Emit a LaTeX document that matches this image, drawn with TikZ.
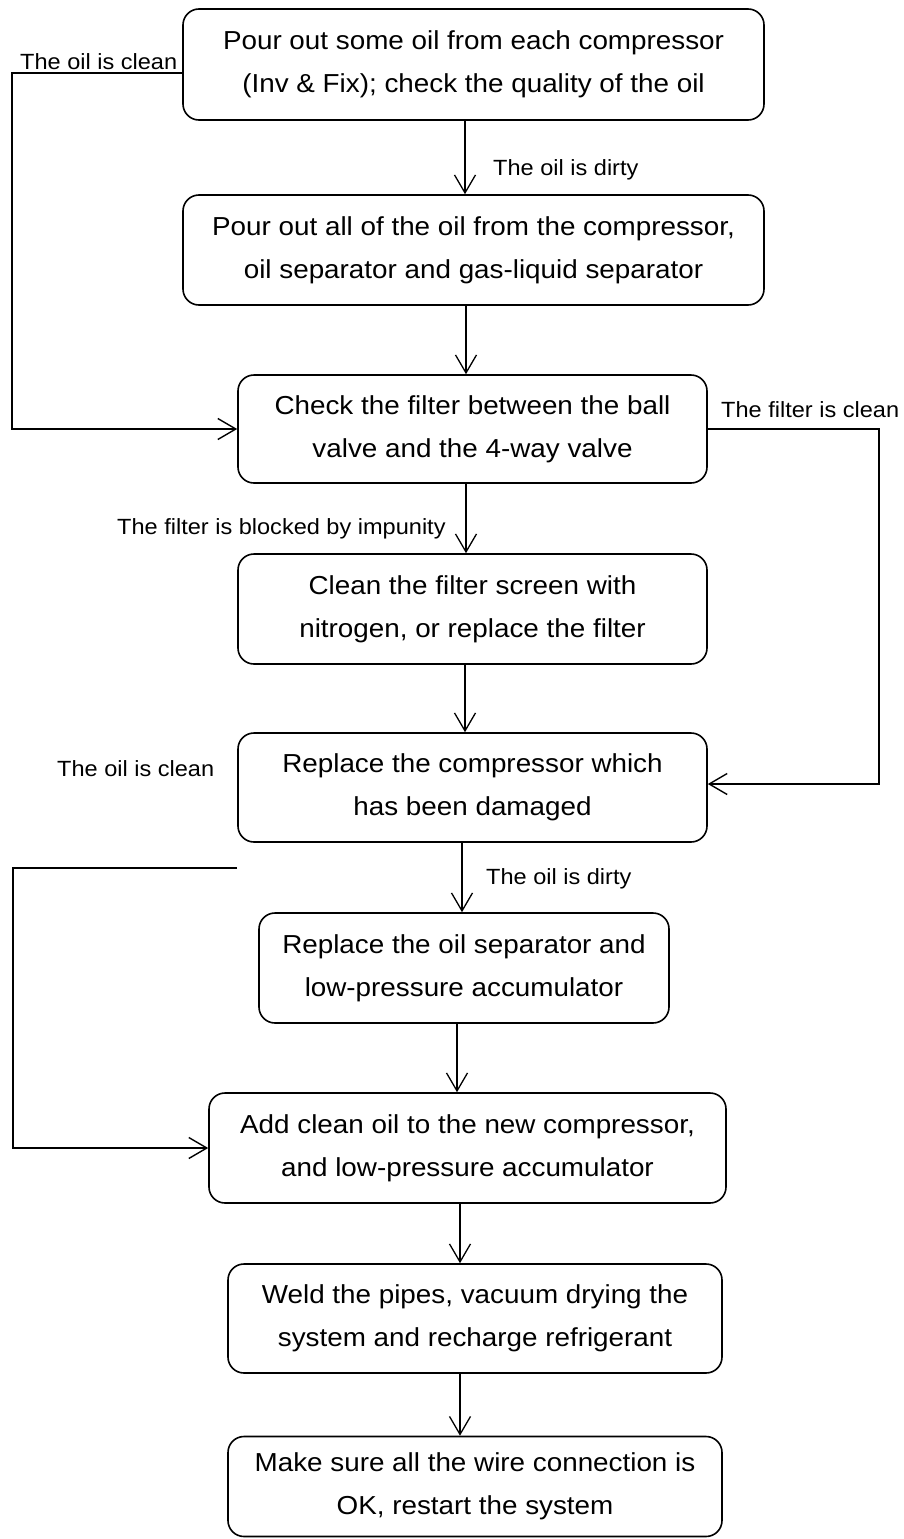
\documentclass[tikz,border=0pt]{standalone}
\usepackage{fontspec}
\setmainfont{Liberation Sans}[FakeStretch=1.07]
\usetikzlibrary{arrows.meta,calc}
\begin{document}
\begin{tikzpicture}[x=1pt,y=-1pt,
  boxnode/.style={draw, line width=1.6pt, rounded corners=16pt, align=center,
    inner sep=0pt, font=\fontsize{26}{43}\selectfont},
  lbl/.style={inner sep=0pt, font=\fontsize{22}{26}\selectfont},
  arr/.style={line width=1.3pt, -{Straight Barb[length=18pt,width=21pt]}},
  lp/.style={line width=2.4pt, -{Straight Barb[length=18pt,width=21pt,line width=1.4pt]}},
  lpn/.style={line width=2.4pt}
]
\fill[white] (0,0) rectangle (904,1539);
\useasboundingbox (0,0) rectangle (904,1539);

\node[boxnode, minimum width=581pt, minimum height=111pt] (b1) at (473.5,64.5)
  {Pour out some oil from each compressor\\(Inv \& Fix); check the quality of the oil};
\node[boxnode, minimum width=581pt, minimum height=110pt] (b2) at (473.5,250)
  {Pour out all of the oil from the compressor,\\oil separator and gas-liquid separator};
\node[boxnode, minimum width=469pt, minimum height=108pt] (b3) at (472.5,429)
  {Check the filter between the ball\\valve and the 4-way valve};
\node[boxnode, minimum width=469pt, minimum height=110pt] (b4) at (472.5,609)
  {Clean the filter screen with\\nitrogen, or replace the filter};
\node[boxnode, minimum width=469pt, minimum height=109pt] (b5) at (472.5,787.5)
  {Replace the compressor which\\has been damaged};
\node[boxnode, minimum width=410pt, minimum height=110pt] (b6) at (464,968)
  {Replace the oil separator and\\low-pressure accumulator};
\node[boxnode, minimum width=517pt, minimum height=110pt] (b7) at (467.5,1148)
  {Add clean oil to the new compressor,\\and low-pressure accumulator};
\node[boxnode, minimum width=494pt, minimum height=109pt] (b8) at (475,1318.5)
  {Weld the pipes, vacuum drying the\\system and recharge refrigerant};
\node[boxnode, minimum width=494pt, minimum height=100pt] (b9) at (475,1486.5)
  {Make sure all the wire connection is\\OK, restart the system};

% vertical links
\newcommand\vlink[3]{\draw[arr] ([xshift=#3]#1.south) coordinate (tmp) -- (tmp |- #2.north);}
\vlink{b1}{b2}{-8.5pt}
\vlink{b2}{b3}{-7.5pt}
\vlink{b3}{b4}{-6.5pt}
\vlink{b4}{b5}{-7.5pt}
\vlink{b5}{b6}{-10.5pt}
\vlink{b6}{b7}{-7pt}
\vlink{b7}{b8}{-7.5pt}
\vlink{b8}{b9}{-15pt}

% loops
\coordinate (lc1) at (12,200);
\coordinate (rc1) at (879,600);
\coordinate (s2) at (237,868);
\coordinate (lc2) at (13,1000);
\draw[lp] ([yshift=-8.5pt]b1.west) -| (lc1) |- (b3.west);
\draw[lp] (b3.east) -| (rc1) |- ([yshift=3.5pt]b5.east);
\draw[lp] (s2) -| (lc2) |- (b7.west);

% labels
\node[lbl, anchor=base west] (l1) at (20,69) {The oil is clean};
\node[lbl, anchor=base west] (l2) at (493,175) {The oil is dirty};
\node[lbl, anchor=base west] (l3) at (721,417) {The filter is clean};
\node[lbl, anchor=base west] (l4) at (117,534) {The filter is blocked by impunity};
\node[lbl, anchor=base west] (l5) at (57,776) {The oil is clean};
\node[lbl, anchor=base west] (l6) at (486,884) {The oil is dirty};
\end{tikzpicture}
\end{document}
